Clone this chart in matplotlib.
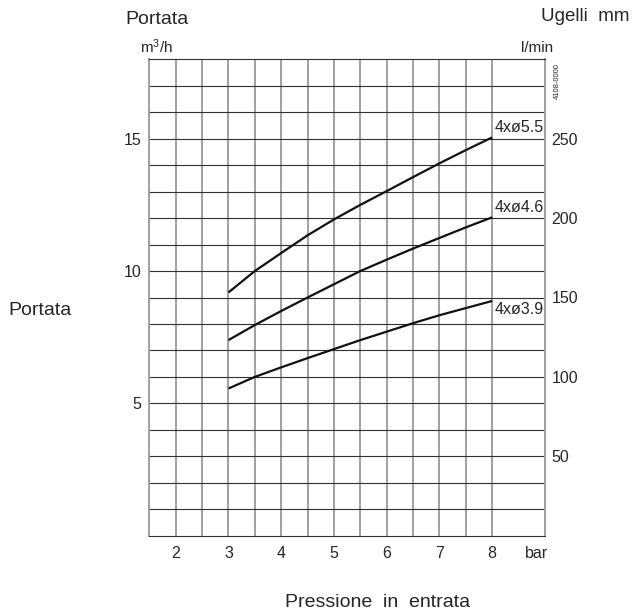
import matplotlib
matplotlib.use("Agg")
import matplotlib.pyplot as plt
import numpy as np

plt.rcParams['font.family'] = ['Liberation Sans', 'DejaVu Sans']
plt.rcParams['mathtext.fontset'] = 'custom'
plt.rcParams['mathtext.rm'] = 'Liberation Sans'
plt.rcParams['mathtext.it'] = 'Liberation Sans'

# Data
pressure = [3, 3.5, 4, 4.5, 5, 5.5, 6, 6.5, 7, 7.5, 8]
q_55 = [9.19, 10.0, 10.68, 11.35, 11.95, 12.5, 13.02, 13.55, 14.07, 14.57, 15.05]
q_46 = [7.39, 7.96, 8.49, 9.0, 9.5, 10.0, 10.43, 10.85, 11.25, 11.65, 12.03]
q_39 = [5.56, 6.0, 6.36, 6.71, 7.05, 7.39, 7.71, 8.03, 8.33, 8.6, 8.87]
series_labels = ["4xø5.5", "4xø4.6", "4xø3.9"]
x_ticks = [2, 3, 4, 5, 6, 7, 8]
y_ticks = [5, 10, 15]
y2_ticks = [50, 100, 150, 200, 250]

TXT = '#262626'
W, H = 634, 616
fig = plt.figure(figsize=(W / 100, H / 100), dpi=100)
ax = fig.add_axes([149.3 / W, 1 - 535.7 / H, (545 - 149.3) / W, (535.7 - 59.3) / H])
ax.set_xlim(1.5, 9)
ax.set_ylim(0, 18)

# grid
for xv in np.arange(2, 8.01, 0.5):
    ax.axvline(xv, color='#a0a0a0', lw=1.4, zorder=1)
for yv in range(1, 18):
    ax.axhline(yv, color='#303030', lw=0.8, zorder=1.5)

for s in ['left', 'right']:
    ax.spines[s].set_color('#a0a0a0')
    ax.spines[s].set_linewidth(1.4)
for s in ['top', 'bottom']:
    ax.spines[s].set_color('#303030')
    ax.spines[s].set_linewidth(0.8)

ax.set_xticks(x_ticks)
ax.set_xticklabels([str(v) for v in x_ticks])
ax.set_yticks(y_ticks)
ax.set_yticklabels([str(v) for v in y_ticks])
ax.tick_params(axis='x', length=0, pad=7.2, labelsize=11.5, labelcolor=TXT)
ax.tick_params(axis='y', length=0, pad=5.5, labelsize=11.5, labelcolor=TXT)

ax2 = ax.twinx()
ax2.set_ylim(0, 18 * 1000 / 60)
ax2.set_yticks(y2_ticks)
ax2.set_yticklabels([str(v) for v in y2_ticks])
ax2.tick_params(axis='y', length=0, pad=4.8, labelsize=11.5, labelcolor=TXT)
for s in ax2.spines.values():
    s.set_visible(False)

for q in (q_55, q_46, q_39):
    ax.plot(pressure, q, color='#111111', lw=1.6, zorder=3, solid_capstyle='butt',
            solid_joinstyle='round')

ax.annotate(series_labels[0], (pressure[-1], q_55[-1]), xytext=(1.5, 2), textcoords='offset points',
            ha='left', va='bottom', fontsize=11.5, color=TXT)
ax.annotate(series_labels[1], (pressure[-1], q_46[-1]), xytext=(1.5, 2), textcoords='offset points',
            ha='left', va='bottom', fontsize=11.5, color=TXT)
ax.annotate(series_labels[2], (pressure[-1], q_39[-1]), xytext=(1.5, -1), textcoords='offset points',
            ha='left', va='top', fontsize=11.5, color=TXT)

# texts
fig.text(157.3 / W, 1 - 24 / H, 'Portata', ha='center', va='baseline', fontsize=14, color=TXT)
fig.text(156.7 / W, 1 - 53.3 / H, 'm$^3$/h', ha='center', va='baseline', fontsize=11, color=TXT)
fig.text(585.5 / W, 1 - 21 / H, 'Ugelli  mm', ha='center', va='baseline', fontsize=13.5, color=TXT)
fig.text(537 / W, 1 - 51.7 / H, 'l/min', ha='center', va='baseline', fontsize=11, color=TXT)
fig.text(557 / W, 1 - 81 / H, '4108-0000', ha='center', va='center', rotation=90, fontsize=5.5, color=TXT)
fig.text(40 / W, 1 - 315 / H, 'Portata', ha='center', va='baseline', fontsize=14, color=TXT)
fig.text(536 / W, 1 - 545.7 / H, 'bar', ha='center', va='top', fontsize=11.5, color=TXT)
fig.text(378 / W, 1 - 606.7 / H, 'Pressione  in  entrata', ha='center', va='baseline', fontsize=14, color=TXT)

fig.savefig('out.png', dpi=100)
